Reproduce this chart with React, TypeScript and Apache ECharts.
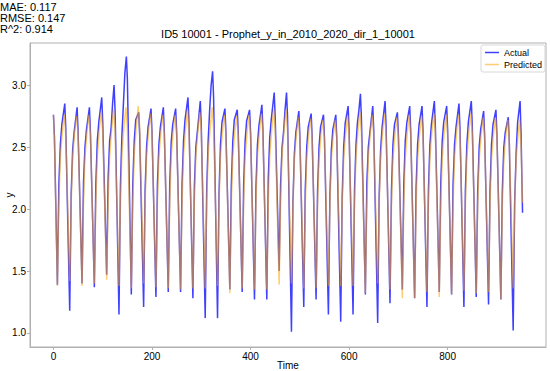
import React, { useEffect, useRef } from "react";
import * as echarts from "echarts";

const metricLines = ["MAE: 0.117", "RMSE: 0.147", "R^2: 0.914"];
const chartTitle = "ID5 10001 - Prophet_y_in_2010_2020_dir_1_10001";
const xTicks = [0, 200, 400, 600, 800];
const yTicks = [1.0, 1.5, 2.0, 2.5, 3.0];

// Actual series: key points [time, value]
const actualPoints: [number, number][] = [
  [0, 2.76], [2, 2.58], [8, 1.39],
  [11, 2.2], [14, 2.52], [17, 2.68], [23, 2.85], [25, 2.65], [33, 1.18],
  [36, 2.12], [39, 2.48], [42, 2.62], [48, 2.82], [50, 2.62], [58, 1.4],
  [61, 2.22], [64, 2.5], [67, 2.64], [73, 2.82], [75, 2.62], [83, 1.37],
  [86, 2.2], [89, 2.55], [92, 2.7], [98, 2.9], [100, 2.7], [108, 1.47],
  [111, 2.25], [114, 2.55], [117, 2.65], [120, 2.85], [123, 3.0], [125, 2.8], [133, 1.15],
  [136, 2.2], [139, 2.6], [142, 2.85], [145, 3.1], [148, 3.23], [150, 3.05], [158, 1.31],
  [161, 2.2], [164, 2.55], [167, 2.72], [173, 2.78], [175, 2.6], [183, 1.21],
  [186, 2.15], [189, 2.5], [192, 2.66], [198, 2.81], [200, 2.62], [208, 1.29],
  [211, 2.2], [214, 2.52], [217, 2.66], [223, 2.82], [225, 2.62], [233, 1.33],
  [236, 2.2], [239, 2.54], [242, 2.68], [248, 2.81], [250, 2.62], [258, 1.33],
  [261, 2.2], [264, 2.55], [267, 2.72], [273, 2.9], [275, 2.7], [283, 1.28],
  [286, 2.18], [289, 2.5], [292, 2.62], [298, 2.87], [300, 2.67], [308, 1.12],
  [311, 2.15], [314, 2.55], [317, 2.8], [320, 3.0], [323, 3.11], [325, 2.9], [333, 1.12],
  [336, 2.12], [339, 2.52], [342, 2.7], [348, 2.81], [350, 2.62], [358, 1.35],
  [361, 2.2], [364, 2.55], [367, 2.72], [373, 2.8], [375, 2.62], [383, 1.33],
  [386, 2.2], [389, 2.55], [392, 2.71], [398, 2.8], [400, 2.62], [408, 1.27],
  [411, 2.18], [414, 2.52], [417, 2.67], [423, 2.84], [425, 2.65], [433, 1.27],
  [436, 2.25], [439, 2.58], [442, 2.72], [448, 2.94], [450, 2.74], [458, 1.5],
  [461, 2.2], [464, 2.5], [467, 2.62], [470, 2.8], [473, 2.94], [475, 2.75], [483, 1.01],
  [486, 2.05], [489, 2.45], [492, 2.62], [498, 2.79], [500, 2.6], [508, 1.21],
  [511, 2.15], [514, 2.5], [517, 2.66], [523, 2.77], [525, 2.58], [533, 1.27],
  [536, 2.15], [539, 2.5], [542, 2.66], [548, 2.76], [550, 2.57], [558, 1.15],
  [561, 2.1], [564, 2.48], [567, 2.64], [573, 2.76], [575, 2.57], [583, 1.09],
  [586, 2.1], [589, 2.5], [592, 2.69], [598, 2.83], [600, 2.63], [608, 1.15],
  [611, 2.15], [614, 2.52], [617, 2.7], [620, 2.8], [623, 2.93], [625, 2.73], [633, 1.31],
  [636, 2.2], [639, 2.5], [642, 2.61], [648, 2.83], [650, 2.63], [658, 1.08],
  [661, 2.1], [664, 2.48], [667, 2.66], [673, 2.87], [675, 2.67], [683, 1.24],
  [686, 2.15], [689, 2.52], [692, 2.68], [698, 2.78], [700, 2.6], [708, 1.35],
  [711, 2.2], [714, 2.55], [717, 2.69], [723, 2.83], [725, 2.63], [733, 1.28],
  [736, 2.18], [739, 2.52], [742, 2.68], [748, 2.83], [750, 2.63], [758, 1.21],
  [761, 2.15], [764, 2.52], [767, 2.68], [773, 2.87], [775, 2.67], [783, 1.33],
  [786, 2.2], [789, 2.55], [792, 2.7], [798, 2.83], [800, 2.63], [808, 1.31],
  [811, 2.2], [814, 2.52], [817, 2.66], [823, 2.85], [825, 2.65], [833, 1.21],
  [836, 2.15], [839, 2.52], [842, 2.7], [848, 2.87], [850, 2.67], [858, 1.29],
  [861, 2.15], [864, 2.5], [867, 2.64], [873, 2.79], [875, 2.6], [883, 1.23],
  [886, 2.15], [889, 2.52], [892, 2.68], [898, 2.8], [900, 2.6], [908, 1.27],
  [911, 2.15], [914, 2.5], [917, 2.62], [923, 2.74], [925, 2.55], [933, 1.02],
  [936, 2.05], [939, 2.45], [942, 2.7], [947, 2.87], [949, 2.6], [952, 1.97],
];

// Predicted series: key points [time, value]
const predictedPoints: [number, number][] = [
  [0, 2.76], [2, 2.55], [8, 1.38],
  [11, 2.05], [14, 2.42], [18, 2.62], [22, 2.76], [25, 2.6], [33, 1.42],
  [36, 2.05], [39, 2.42], [43, 2.62], [47, 2.75], [50, 2.6], [58, 1.38],
  [61, 2.05], [64, 2.42], [68, 2.62], [72, 2.76], [75, 2.6], [83, 1.4],
  [86, 2.05], [89, 2.42], [93, 2.63], [97, 2.78], [100, 2.62], [108, 1.43],
  [111, 2.05], [114, 2.42], [118, 2.64], [122, 2.8], [125, 2.64], [133, 1.38],
  [136, 2.05], [139, 2.45], [143, 2.66], [147, 2.82], [150, 2.66], [158, 1.36],
  [161, 2.05], [164, 2.44], [168, 2.66], [172, 2.83], [175, 2.66], [183, 1.4],
  [186, 2.05], [189, 2.42], [193, 2.62], [197, 2.77], [200, 2.61], [208, 1.37],
  [211, 2.05], [214, 2.42], [218, 2.62], [222, 2.76], [225, 2.6], [233, 1.36],
  [236, 2.05], [239, 2.42], [243, 2.62], [247, 2.76], [250, 2.6], [258, 1.35],
  [261, 2.05], [264, 2.43], [268, 2.64], [272, 2.8], [275, 2.64], [283, 1.36],
  [286, 2.05], [289, 2.42], [293, 2.62], [297, 2.78], [300, 2.62], [308, 1.36],
  [311, 2.05], [314, 2.44], [318, 2.65], [322, 2.82], [325, 2.66], [333, 1.38],
  [336, 2.05], [339, 2.42], [343, 2.62], [347, 2.76], [350, 2.6], [358, 1.32],
  [361, 2.05], [364, 2.42], [368, 2.62], [372, 2.75], [375, 2.59], [383, 1.36],
  [386, 2.05], [389, 2.42], [393, 2.62], [397, 2.76], [400, 2.6], [408, 1.35],
  [411, 2.05], [414, 2.42], [418, 2.62], [422, 2.77], [425, 2.61], [433, 1.35],
  [436, 2.05], [439, 2.43], [443, 2.64], [447, 2.8], [450, 2.64], [458, 1.39],
  [461, 2.05], [464, 2.43], [468, 2.64], [472, 2.8], [475, 2.64], [483, 1.4],
  [486, 2.02], [489, 2.4], [493, 2.6], [497, 2.74], [500, 2.58], [508, 1.36],
  [511, 2.03], [514, 2.4], [518, 2.6], [522, 2.73], [525, 2.57], [533, 1.36],
  [536, 2.03], [539, 2.4], [543, 2.6], [547, 2.72], [550, 2.56], [558, 1.38],
  [561, 2.03], [564, 2.4], [568, 2.6], [572, 2.72], [575, 2.56], [583, 1.38],
  [586, 2.03], [589, 2.4], [593, 2.61], [597, 2.75], [600, 2.59], [608, 1.38],
  [611, 2.04], [614, 2.42], [618, 2.63], [622, 2.78], [625, 2.62], [633, 1.32],
  [636, 2.03], [639, 2.41], [643, 2.61], [647, 2.76], [650, 2.6], [658, 1.4],
  [661, 2.03], [664, 2.41], [668, 2.62], [672, 2.77], [675, 2.61], [683, 1.35],
  [686, 2.03], [689, 2.4], [693, 2.6], [697, 2.74], [700, 2.58], [708, 1.28],
  [711, 2.03], [714, 2.41], [718, 2.61], [722, 2.76], [725, 2.6], [733, 1.28],
  [736, 2.03], [739, 2.4], [743, 2.6], [747, 2.75], [750, 2.59], [758, 1.33],
  [761, 2.03], [764, 2.41], [768, 2.62], [772, 2.77], [775, 2.61], [783, 1.29],
  [786, 2.03], [789, 2.41], [793, 2.61], [797, 2.76], [800, 2.6], [808, 1.31],
  [811, 2.03], [814, 2.41], [818, 2.61], [822, 2.76], [825, 2.6], [833, 1.34],
  [836, 2.03], [839, 2.41], [843, 2.62], [847, 2.77], [850, 2.61], [858, 1.32],
  [861, 2.03], [864, 2.4], [868, 2.6], [872, 2.74], [875, 2.58], [883, 1.33],
  [886, 2.03], [889, 2.4], [893, 2.6], [897, 2.74], [900, 2.58], [908, 1.27],
  [911, 2.03], [914, 2.39], [918, 2.59], [922, 2.72], [925, 2.56], [933, 1.36],
  [936, 2.03], [939, 2.4], [943, 2.6], [946, 2.72], [949, 2.5], [952, 2.05],
];

const FONT = "'Liberation Sans', Arial, Helvetica, sans-serif";
const ACTUAL_COLOR = "rgba(0,0,255,0.75)";
const PRED_COLOR = "rgba(255,165,0,0.55)";

export default function App() {
  const ref = useRef<HTMLDivElement>(null);
  useEffect(() => {
    if (!ref.current) return;
    const chart = echarts.init(ref.current, undefined, { renderer: "svg" });
    const axisGray = "#b0b0b0";
    chart.setOption({
      animation: false,
      backgroundColor: "#ffffff",
      textStyle: { fontFamily: FONT },
      grid: {
        left: 30,
        right: 4,
        top: 43,
        bottom: 24,
        containLabel: false,
        outerBoundsMode: "none",
        show: true,
        borderColor: axisGray,
        borderWidth: 1,
        backgroundColor: "transparent",
      },
      graphic: [
        {
          type: "text",
          x: 0,
          y: 1,
          style: {
            text: metricLines.join("\n"),
            font: `11px ${FONT}`,
            lineHeight: 11,
            fill: "#000",
          },
        },
        {
          type: "text",
          x: 288,
          y: 34,
          style: {
            text: chartTitle,
            font: `11px ${FONT}`,
            fill: "#000",
            textAlign: "center",
            textVerticalAlign: "middle",
          },
        },
      ],
      legend: {
        orient: "vertical",
        right: 5,
        top: 45,
        icon: "rect",
        itemWidth: 14,
        itemHeight: 1.5,
        itemGap: 3,
        padding: [3, 3, 3, 4],
        backgroundColor: "#ffffff",
        borderColor: "#d8d8d8",
        borderWidth: 1,
        borderRadius: 2,
        textStyle: { fontSize: 9, color: "#000", fontFamily: FONT },
        data: ["Actual", "Predicted"],
      },
      xAxis: {
        type: "value",
        min: -47.6,
        max: 999.6,
        name: "Time",
        nameLocation: "middle",
        nameGap: 13,
        nameMoveOverlap: false,
        nameTextStyle: {
          fontSize: 10,
          color: "#000",
          fontFamily: FONT,
          verticalAlign: "top",
        },
        axisLine: { show: true, onZero: false, lineStyle: { color: axisGray, width: 1 } },
        axisTick: {
          show: true,
          customValues: xTicks,
          length: 3,
          lineStyle: { color: axisGray },
        },
        axisLabel: {
          customValues: xTicks,
          fontSize: 10,
          color: "#000",
          margin: 4,
          fontFamily: FONT,
        },
        splitLine: { show: false },
      },
      yAxis: {
        type: "value",
        min: 0.887,
        max: 3.339,
        name: "y",
        nameLocation: "middle",
        nameGap: 16,
        nameMoveOverlap: false,
        nameTextStyle: { fontSize: 10, color: "#000", fontFamily: FONT },
        axisLine: { show: true, onZero: false, lineStyle: { color: axisGray, width: 1 } },
        axisTick: {
          show: true,
          customValues: yTicks,
          length: 3,
          lineStyle: { color: axisGray },
        },
        axisLabel: {
          customValues: yTicks,
          fontSize: 10,
          color: "#000",
          margin: 4,
          fontFamily: FONT,
          formatter: (v: number) => v.toFixed(1),
        },
        splitLine: { show: false },
      },
      series: [
        {
          name: "Actual",
          type: "line",
          data: actualPoints,
          symbol: "none",
          showSymbol: false,
          lineStyle: { color: ACTUAL_COLOR, width: 1.5 },
          itemStyle: { color: ACTUAL_COLOR },
        },
        {
          name: "Predicted",
          type: "line",
          data: predictedPoints,
          symbol: "none",
          showSymbol: false,
          lineStyle: { color: PRED_COLOR, width: 1.5 },
          itemStyle: { color: PRED_COLOR },
        },
      ],
    });
    return () => chart.dispose();
  }, []);
  return (
    <div
      ref={ref}
      style={{ position: "fixed", left: 0, top: 0, width: 550, height: 371 }}
    />
  );
}
